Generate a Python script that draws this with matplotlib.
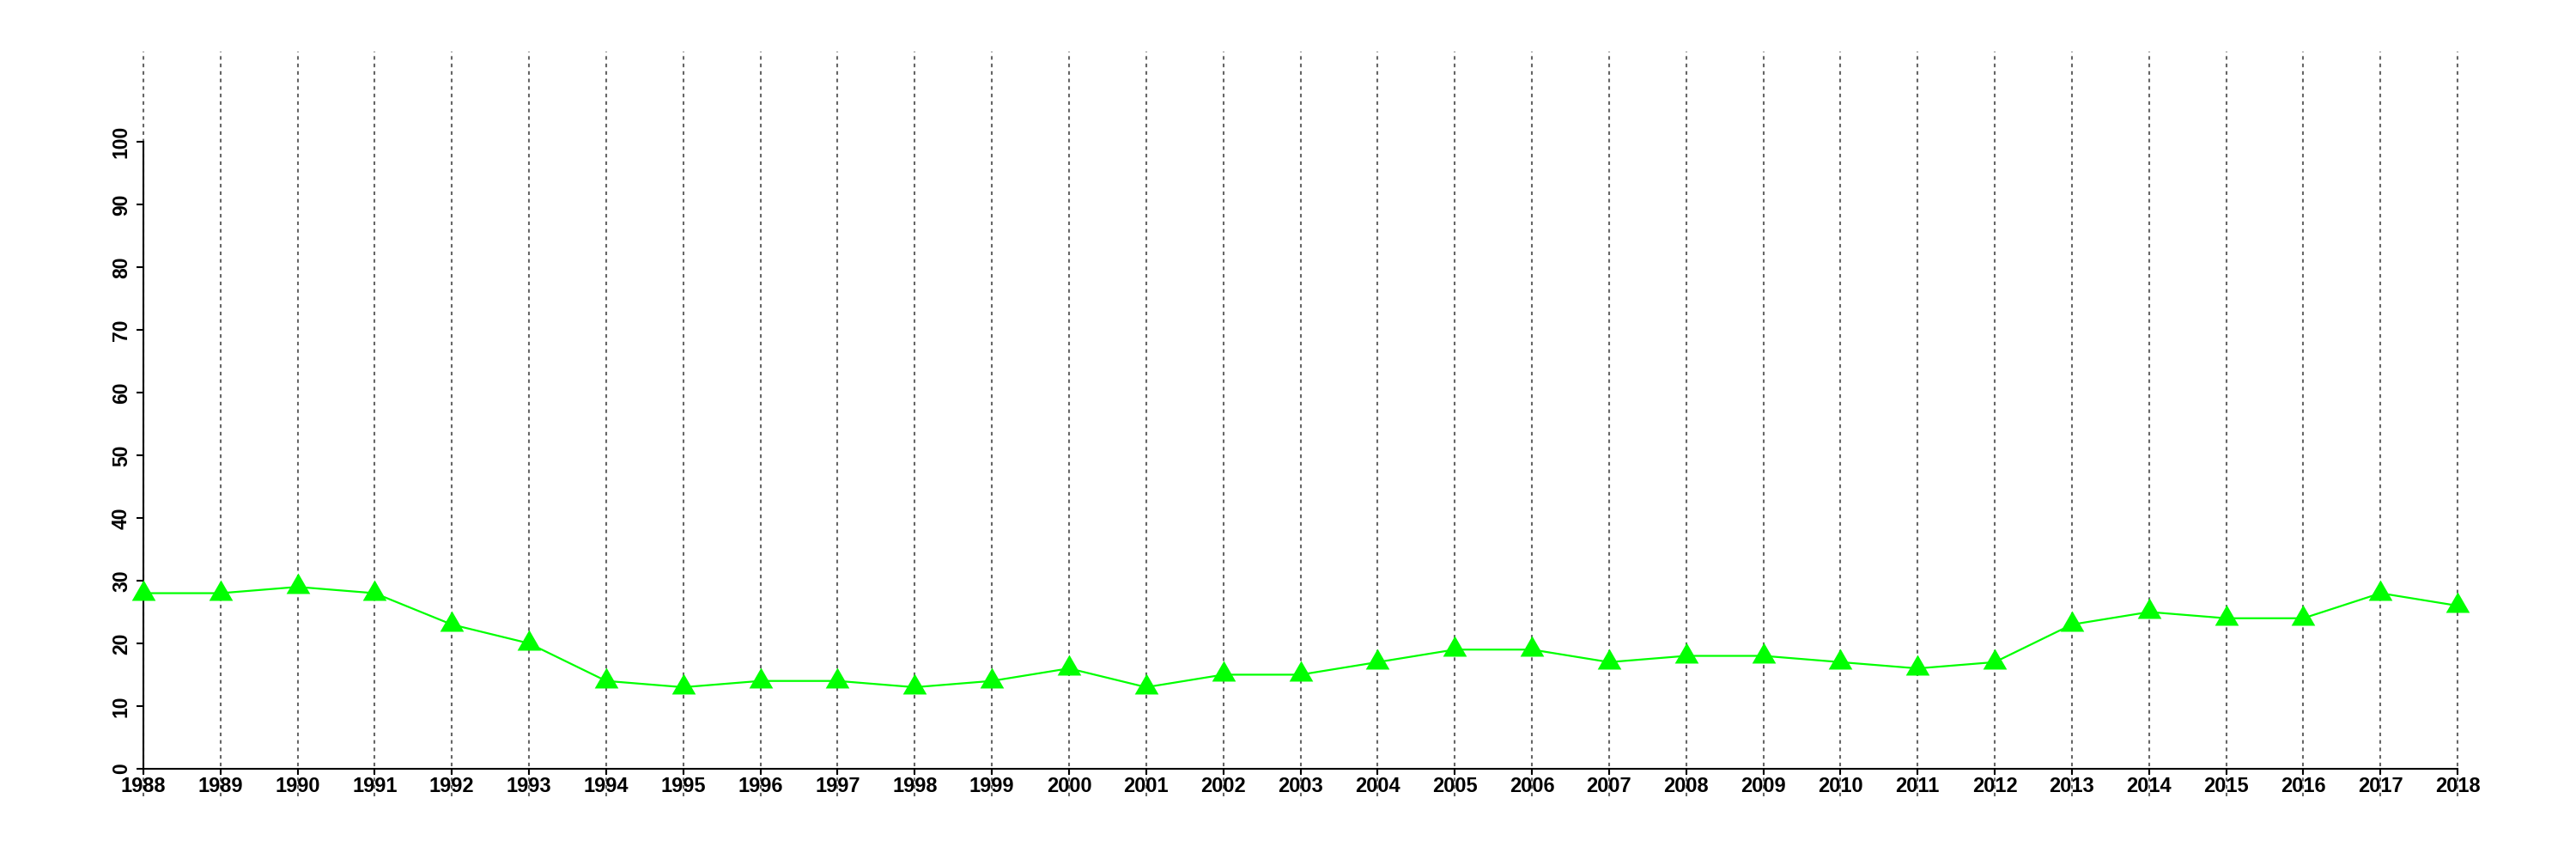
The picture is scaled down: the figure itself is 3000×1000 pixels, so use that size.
import numpy as np
import matplotlib.pyplot as plt

# valeurs
years = list(range(1988, 2019))
values = [28, 28, 29, 28, 23, 20, 14, 13, 14, 14, 13, 14, 16, 13, 15, 15,
          17, 19, 19, 17, 18, 18, 17, 16, 17, 23, 25, 24, 24, 28, 26]
yticks = list(range(0, 101, 10))

plt.rcParams['font.family'] = ['Liberation Sans', 'DejaVu Sans']
plt.rcParams['font.weight'] = 'bold'

fig = plt.figure(figsize=(30, 10), dpi=100)
ax = fig.add_axes([59 / 3000, 0.073, (2970 - 59) / 3000, 0.94 - 0.073])

# lignes verticales pointillées (toute la hauteur de la zone de tracé)
ax.vlines(years, -4.4, 114.4, colors='#666666', linestyles=(0, (2, 2.2)),
          linewidth=1.5, zorder=1, clip_on=False)

# triangle centré sur son centre de gravité (comme pch=17 de R)
tri = [(0, 1.0), (-0.866, -0.5), (0.866, -0.5)]
ax.plot(years, values, color='#00FF00', linewidth=1.6, marker=tri,
        markersize=23, markeredgewidth=0, zorder=3, clip_on=False)

ax.set_xlim(1986.8, 2019.2)
ax.set_ylim(-4.4, 114.4)

for side in ['top', 'right']:
    ax.spines[side].set_visible(False)
ax.spines['left'].set_bounds(0, 100)
ax.spines['left'].set_position(('data', 1988))
ax.spines['bottom'].set_bounds(1988, 2018)
ax.spines['bottom'].set_position(('data', 0))
for side in ['left', 'bottom']:
    ax.spines[side].set_linewidth(1.5)
    ax.spines[side].set_zorder(2)

ax.set_xticks(years)
ax.set_xticklabels([str(y) for y in years], fontsize=17, fontweight='bold')
ax.set_yticks(yticks)
ax.set_yticklabels([str(v) for v in yticks], fontsize=16.5, fontweight='bold',
                   rotation=90, va='center')
ax.tick_params(axis='y', length=6, width=1.5, pad=4)
ax.tick_params(axis='x', length=5, width=1.5, pad=1.5)

fig.savefig('out.png', dpi=100)
